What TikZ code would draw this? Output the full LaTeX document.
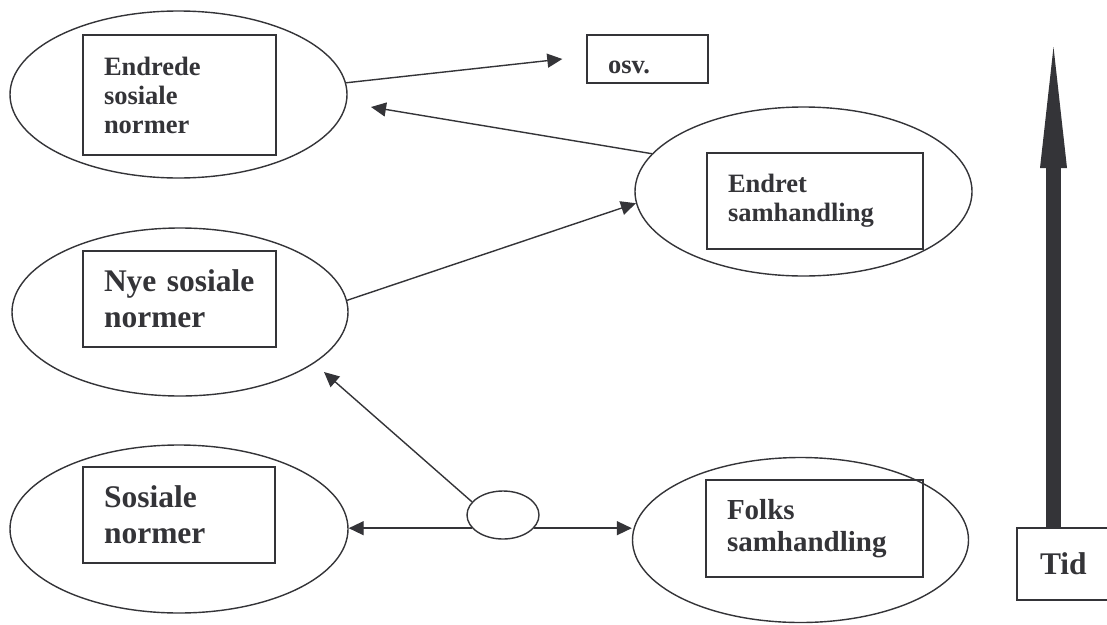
\documentclass[tikz,border=0pt]{standalone}
\usepackage{fontspec}
\setmainfont{Liberation Serif}
\usetikzlibrary{shapes.geometric,arrows.meta}
\definecolor{ink}{RGB}{52,52,56}
\begin{document}
\begin{tikzpicture}[x=1pt,y=-1pt,line width=1.4pt,draw=ink,text=ink,
  ell/.style={draw,ellipse,inner sep=0pt},
  box/.style={draw,rectangle,align=left,inner ysep=0pt},
  sm/.style={font=\fontsize{26.5}{29}\selectfont\bfseries},
  md/.style={font=\fontsize{29}{32}\selectfont\bfseries},
  big/.style={font=\fontsize{31.5}{36}\selectfont\bfseries},
  arr/.style={-{Triangle[length=15pt,width=14pt]}}]
\useasboundingbox (0,0) rectangle (1107,624);
\fill[white] (0,0) rectangle (1107,624);

% ellipses
\node[ell,minimum width=337pt,minimum height=167pt] (e1) at (178.5,94.5) {};
\node[ell,minimum width=336pt,minimum height=168pt] (e2) at (180,312) {};
\node[ell,minimum width=338pt,minimum height=168pt] (e3) at (179,529) {};
\node[ell,minimum width=337pt,minimum height=169pt] (e4) at (803.5,191.5) {};
\node[ell,minimum width=336pt,minimum height=165pt] (e5) at (800.5,540) {};
\node[ell,minimum width=72pt,minimum height=48pt] (s) at (503,515) {};

% boxes
\node[box,sm,minimum width=193pt,minimum height=120pt,text width=151pt,inner xsep=21pt] (r1) at (179.5,95) {Endrede\\sosiale\\normer};
\node[box,big,minimum width=193pt,minimum height=96pt,text width=151pt,inner xsep=21pt] (r2) at (179.5,299) {Nye sosiale\\normer};
\node[box,big,minimum width=192pt,minimum height=96pt,text width=150pt,inner xsep=21pt] (r3) at (179,515) {Sosiale\\normer};
\node[box,sm,minimum width=216pt,minimum height=96pt,text width=174pt,inner xsep=21pt] (r4) at (815,201) {Endret\\samhandling};
\node[box,md,minimum width=217pt,minimum height=97pt,text width=175pt,inner xsep=21pt] (r5) at (814.5,528.5) {Folks\\samhandling};
\node[box,sm,minimum width=121pt,minimum height=48pt,text width=79pt,inner xsep=21pt,text height=28pt,text depth=0pt] (osv) at (647.5,59) {osv.};
\node[box,big,minimum width=130pt,minimum height=72pt,text width=84pt,inner xsep=23pt] (tid) at (1082,564) {Tid};

% connectors
\coordinate (t1) at (371,107);
\coordinate (t2) at (324,372);
\draw[arr] (e1.4) -- ([xshift=-24pt]osv.west);
\draw[arr] (e4.166) -- (t1);
\draw[arr] (e2.4) -- (e4.184);
\draw[arr] (s.157) -- (t2);
\draw[arr] (s.203) -- (s.203 -| e3.east);
\draw[arr] (s.-23) -- (s.-23 -| e5.west);

% time arrow
\coordinate (hb) at (1053.5,168);
\coordinate (tip) at (1053.5,47);
\draw[line width=15pt] (tid.north -| hb) -- ([yshift=2pt]hb);
\fill[ink] (tip) -- ([xshift=-13.5pt]hb) -- ([xshift=13.5pt]hb) -- cycle;
\end{tikzpicture}
\end{document}
